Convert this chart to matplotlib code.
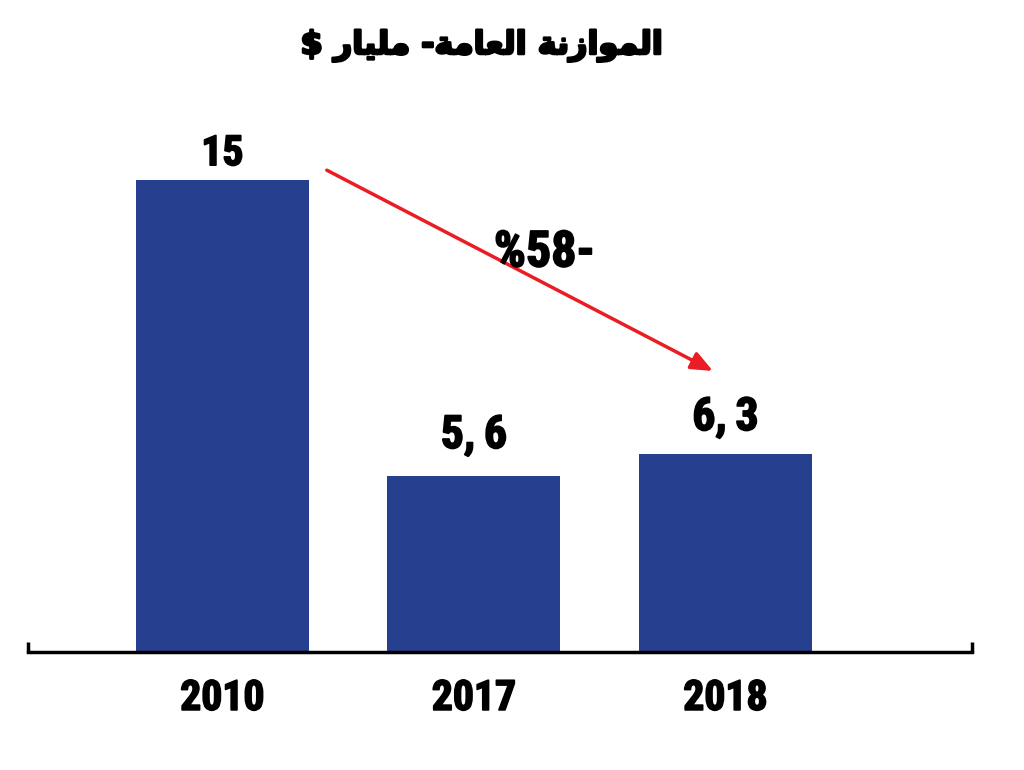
import matplotlib
matplotlib.use('Agg')
import matplotlib.pyplot as plt
import matplotlib.patheffects as pe

years = ['2010', '2017', '2018']
values = [15, 5.6, 6.3]
value_labels = ['15', '5,\u20096', '6,\u20093']

# Arabic title in presentation forms, visual left-to-right order
title_txt = ('$ ' + '\uFEAD\uFE8E\uFEF4\uFEE0\uFEE3' + ' -'
             + '\uFE94\uFEE3\uFE8E\uFECC\uFEDF\uFE8D' + ' '
             + '\uFE94\uFEE7\uFEAF\uFE8D\uFEEE\uFEE4\uFEDF\uFE8D')
change_txt = '%58-'

# label placement above each bar (data units) and size
label_offsets = [0.47, 0.88, 0.75]
label_sizes = [30, 33, 33]

num_font = ['Roboto Condensed', 'Liberation Sans Narrow', 'DejaVu Sans']
bold_fx = [pe.withStroke(linewidth=1.2, foreground='black')]
num_kw = dict(fontweight='heavy', family=num_font, fontstretch='condensed',
              path_effects=bold_fx)

fig = plt.figure(figsize=(10.24, 7.7), dpi=100)
ax = fig.add_axes([28/1024, 1 - 652/770, (972 - 28)/1024, 552/770])

x = range(len(years))
ax.bar(x, values, width=0.688, color='#26408f')
ax.set_xlim(-0.773, 2.98)
ax.set_ylim(0, 552/31.47)

for i, (v, lab) in enumerate(zip(values, value_labels)):
    ax.text(i, v + label_offsets[i], lab, ha='center', va='baseline',
            fontsize=label_sizes[i], **num_kw)
    ax.text(i, -1.84, years[i], ha='center', va='baseline', fontsize=30,
            clip_on=False, **num_kw)

ax.annotate('', xy=(1.95, 8.93), xytext=(0.415, 15.31),
            arrowprops=dict(arrowstyle='-|>,head_length=1.3,head_width=0.55',
                            color='#ec1c24', lw=2.5, shrinkA=0, shrinkB=0))
ax.text(1.28, 12.25, change_txt, ha='center', va='baseline', fontsize=36, **num_kw)

for s in ['top', 'right', 'left']:
    ax.spines[s].set_visible(False)
ax.spines['bottom'].set_linewidth(2.5)
ax.set_xticks([])
ax.set_yticks([])
ax.plot([-0.773, -0.773], [0, 0.32], color='black', lw=2.5, clip_on=False,
        solid_capstyle='butt')
ax.plot([2.98, 2.98], [0, 0.32], color='black', lw=2.5, clip_on=False,
        solid_capstyle='butt')

fig.text(0.471, 1 - 46/770, title_txt, ha='center', va='center', fontsize=23,
         fontweight='heavy', family=['DejaVu Sans'],
         path_effects=[pe.withStroke(linewidth=1.8, foreground='black')])

fig.savefig('out.png', dpi=100)
